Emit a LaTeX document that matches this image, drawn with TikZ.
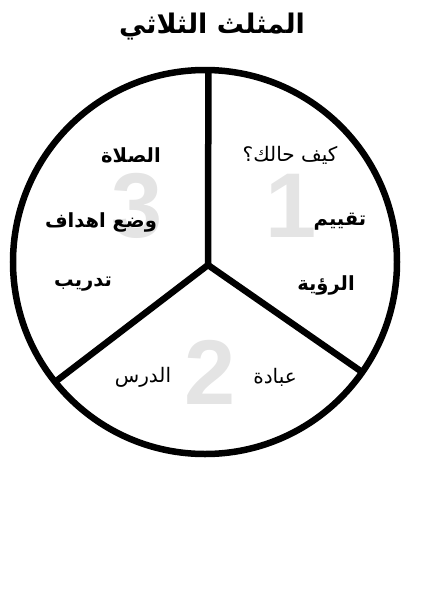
\documentclass[tikz,border=0pt]{standalone}
\usepackage{fontspec}
\usepackage{xcolor}
\usepackage{tikz}
\TeXXeTstate=1
\newfontfamily\arabicfont[Script=Arabic]{DejaVu Sans}
\newfontfamily\digitfont{Liberation Sans}
\definecolor{numgray}{RGB}{228,228,228}

\begin{document}
\begin{tikzpicture}[x=1pt,y=1pt]
	\tikzstyle{every node}+=[inner sep=0pt]
	\tikzstyle{num}=[text=numgray, font=\digitfont\bfseries\fontsize{92}{92}\selectfont]
	\tikzstyle{word}=[font=\arabicfont\bfseries\fontsize{19.5}{22}\selectfont]
	\tikzstyle{plain}=[font=\arabicfont\fontsize{20}{22}\selectfont]
	\useasboundingbox (0,0) rectangle (424,-600);
	\node (title) at (212,-27) [font=\arabicfont\bfseries\fontsize{27}{30}\selectfont] {\beginR المثلث الثلاثي\endR};
	\node (n1) at (291,-206) [num] {1};
	\node (n2) at (210,-372) [num] {2};
	\node (n3) at (137,-206) [num] {3};
	\draw [black, line width=6.5pt] (205,-262) circle (192);
	\coordinate (o) at (208,-265);
	\coordinate (top) at (208.4,-70);
	\coordinate (left) at (55,-382);
	\coordinate (right) at (362,-372);
	\draw [black, line width=6.5pt] (o) -- (top);
	\draw [black, line width=6.5pt] (o) -- (left);
	\draw [black, line width=6.5pt] (o) -- (right);
	\node (q1) at (290,-155) [plain] {\beginR كيف حالك؟\endR};
	\node (q2) at (340,-222) [word] {\beginR تقييم\endR};
	\node (q3) at (326,-285) [word] {\beginR الرؤية\endR};
	\node (q4) at (275,-377) [plain] {\beginR عبادة\endR};
	\node (q5) at (143,-377) [plain] {\beginR الدرس\endR};
	\node (q6) at (131,-155) [word] {\beginR الصلاة\endR};
	\node (q7) at (101,-222) [word] {\beginR وضع اهداف\endR};
	\node (q8) at (83,-284) [word] {\beginR تدريب\endR};
\end{tikzpicture}
\end{document}
